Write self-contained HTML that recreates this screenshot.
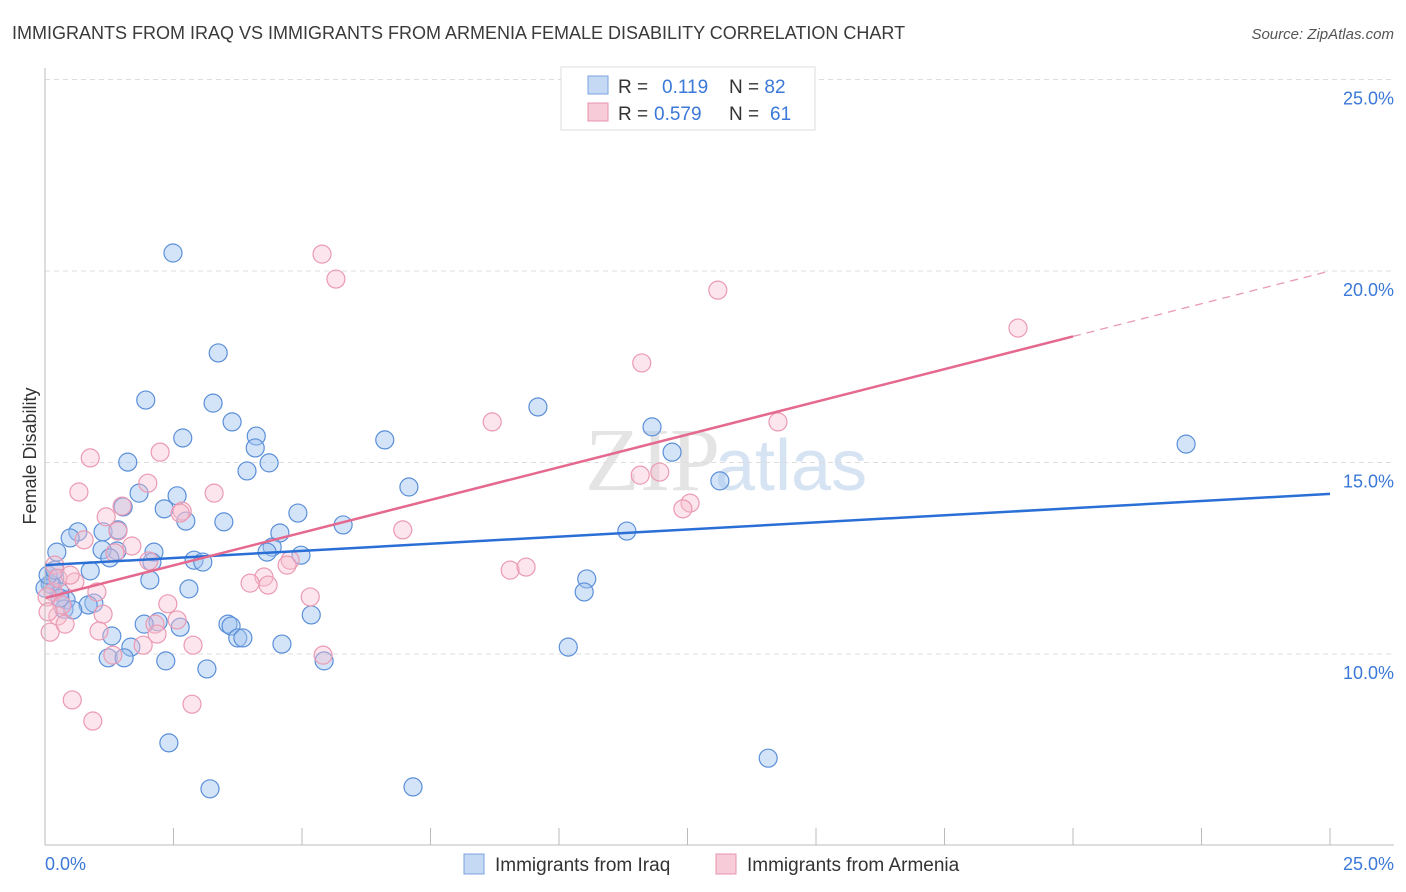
<!DOCTYPE html>
<html><head><meta charset="utf-8"><style>
body{margin:0;background:#fff;font-family:"Liberation Sans",sans-serif;}
svg{display:block}
</style></head><body>
<svg id="chart" width="1406" height="892">
<text x="12" y="39" font-size="18" fill="#3a3a3a">IMMIGRANTS FROM IRAQ VS IMMIGRANTS FROM ARMENIA FEMALE DISABILITY CORRELATION CHART</text>
<text x="1394" y="39" font-size="15" fill="#555" font-style="italic" text-anchor="end">Source: ZipAtlas.com</text>
<text x="36" y="456" font-size="18" fill="#333" text-anchor="middle" transform="rotate(-90 36 456)">Female Disability</text>
<text x="720" y="490" font-size="90" fill="#e4e4e4" text-anchor="end" font-family="Liberation Serif">ZIP</text>
<text x="715" y="490" font-size="72" fill="#d6e3f3">atlas</text>
<g id="grid"></g><g id="pts"></g><g id="lines"></g>
<line x1="45" y1="68" x2="45" y2="845" stroke="#bbb"/>
<line x1="45" y1="845" x2="1394" y2="845" stroke="#bbb"/>
<text x="45" y="870" font-size="18" fill="#3b78d8">0.0%</text>
<text x="1394" y="870" font-size="18" fill="#3b78d8" text-anchor="end">25.0%</text>
<g>
<rect x="561" y="67" width="254" height="63" fill="#fff" stroke="#ddd"/>
<rect x="588" y="76" width="20" height="18" fill="#c5d9f5" stroke="#7aa3e0"/>
<rect x="588" y="103" width="20" height="18" fill="#f8cbd8" stroke="#e893ad"/>
<text x="618" y="93" font-size="19" fill="#333">R = <tspan fill="#3b78d8" x="662">0.119</tspan><tspan x="729">N = </tspan><tspan fill="#3b78d8">82</tspan></text>
<text x="618" y="120" font-size="19" fill="#333">R = <tspan fill="#3b78d8" x="654">0.579</tspan><tspan x="729">N = </tspan><tspan fill="#3b78d8" x="770">61</tspan></text>
</g>
<g>
<rect x="464" y="854" width="20" height="20" fill="#c5d9f5" stroke="#7aa3e0"/>
<text x="495" y="871" font-size="19" fill="#333">Immigrants from Iraq</text>
<rect x="716" y="854" width="20" height="20" fill="#f8cbd8" stroke="#e893ad"/>
<text x="747" y="871" font-size="19" fill="#333">Immigrants from Armenia</text>
</g>
</svg>
<script>
const yTicks=[10,15,20,25];
const xTickCount=10;
const iraqPx=[[173,253],[218,353],[146,400],[213,403],[232,422],[183,438],[256,436],[255,448],[128,462],[269,463],[247,471],[177,496],[139,493],[123,507],[164,509],[186,521],[224,522],[298,513],[343,525],[385,440],[538,407],[652,427],[672,452],[720,481],[409,487],[627,531],[1186,444],[103,532],[78,532],[70,538],[57,552],[118,530],[117,551],[102,550],[154,552],[280,533],[272,547],[267,552],[301,555],[194,560],[203,562],[152,562],[110,558],[90,571],[150,580],[55,578],[52,585],[60,592],[66,600],[64,609],[94,603],[88,605],[189,589],[311,615],[587,579],[584,592],[158,622],[144,624],[180,627],[228,624],[231,626],[238,638],[243,638],[112,636],[131,647],[282,644],[108,658],[124,658],[166,661],[207,669],[324,661],[568,647],[169,743],[210,789],[413,787],[768,758],[50,584],[45,588],[60,598],[48,575],[55,570],[73,610]];
const armeniaPx=[[322,254],[336,279],[718,290],[1018,328],[642,363],[492,422],[778,422],[90,458],[160,452],[79,492],[214,493],[148,483],[640,475],[660,472],[690,503],[683,509],[182,511],[180,513],[106,517],[122,506],[403,530],[118,531],[84,540],[132,546],[115,553],[149,561],[55,565],[290,560],[287,565],[264,577],[250,583],[268,585],[510,570],[526,567],[75,582],[97,592],[310,597],[53,592],[168,604],[58,616],[103,614],[177,620],[65,624],[155,624],[99,631],[157,634],[50,632],[323,655],[113,655],[193,645],[143,645],[72,700],[93,721],[192,704],[58,578],[47,597],[62,605],[48,612],[70,575]];
// convert read pixel positions to data values (percent)
const iraqX=iraqPx.map(p=>+((p[0]-45)/51.4).toFixed(2));
const iraqY=iraqPx.map(p=>+(10+(654-p[1])/38.3).toFixed(2));
const armeniaX=armeniaPx.map(p=>+((p[0]-45)/51.4).toFixed(2));
const armeniaY=armeniaPx.map(p=>+(10+(654-p[1])/38.3).toFixed(2));
const iraqTrend=[12.32,14.18];
const armeniaTrend=[11.46,20.0];
const armeniaSolidEnd=20;
const NS="http://www.w3.org/2000/svg";
const X=v=>45+v*51.4, Y=v=>654-(v-10)*38.3;
function mk(t,a,parent){const e=document.createElementNS(NS,t);for(const k in a)e.setAttribute(k,a[k]);parent.appendChild(e);return e;}
const grid=document.getElementById('grid');
yTicks.forEach(t=>{
 const l=mk('line',{x1:45,x2:1394,y1:Y(t),y2:Y(t),stroke:'#ddd','stroke-dasharray':'5,4'},grid);
 
 
 const tx=mk('text',{x:1394,y:Y(t)+25,'font-size':18,fill:'#3b78d8','text-anchor':'end'},grid);
 tx.textContent=t.toFixed(1)+'%';
 
 
});
for(let i=1;i<=xTickCount;i++){
 const l=mk('line',{x1:X(i*2.5),x2:X(i*2.5),y1:828,y2:845,stroke:'#bbb'},grid);
 
 
}
const pts=document.getElementById('pts');
iraqX.forEach((x,i)=>{
 const c=mk('circle',{cx:X(x),cy:Y(iraqY[i]),r:9,fill:'rgba(160,195,240,0.45)',stroke:'#5b8fd9','stroke-width':1.2},pts);
 
 
});
armeniaX.forEach((x,i)=>{
 const c=mk('circle',{cx:X(x),cy:Y(armeniaY[i]),r:9,fill:'rgba(248,190,208,0.4)',stroke:'#eb9ab3','stroke-width':1.2},pts);
 
 
});
const lines=document.getElementById('lines');
const bl=mk('line',{x1:X(0),y1:Y(iraqTrend[0]),x2:X(25),y2:Y(iraqTrend[1]),stroke:'#2a6fd6','stroke-width':2.5},lines);


const sl=(armeniaTrend[1]-armeniaTrend[0])/25;
const pl=mk('line',{x1:X(0),y1:Y(armeniaTrend[0]),x2:X(armeniaSolidEnd),y2:Y(armeniaTrend[0]+sl*armeniaSolidEnd),stroke:'#e5688f','stroke-width':2.5},lines);


const pd=mk('line',{x1:X(armeniaSolidEnd),y1:Y(armeniaTrend[0]+sl*armeniaSolidEnd),x2:X(25),y2:Y(armeniaTrend[1]),stroke:'#e99ab2','stroke-width':1.3,'stroke-dasharray':'8,6'},lines);


</script>
</body></html>
